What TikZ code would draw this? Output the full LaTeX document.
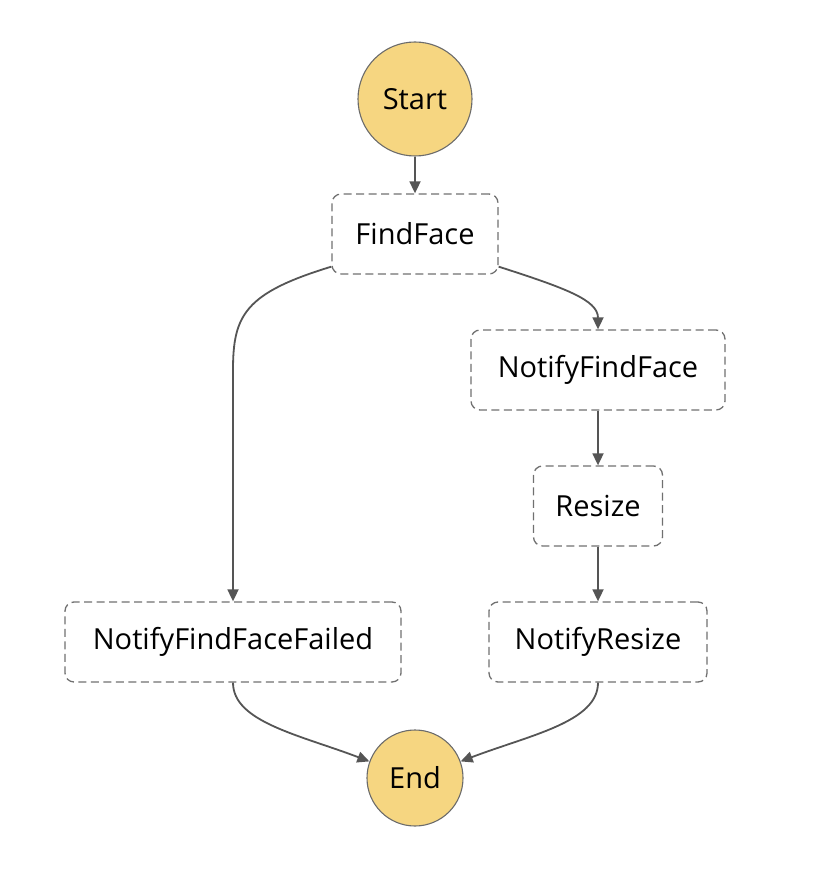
\documentclass[tikz,border=0pt]{standalone}
\usepackage{fontspec}
\setmainfont{Open Sans}
\usetikzlibrary{arrows.meta,calc}
\definecolor{startfill}{HTML}{F6D681}
\definecolor{circedge}{HTML}{6B6B6B}
\definecolor{boxedge}{HTML}{707070}
\definecolor{linkcol}{HTML}{555555}
\begin{document}
\begin{tikzpicture}[x=1pt,y=-1pt,
  statecircle/.style={circle,draw=circedge,fill=startfill,line width=1.1pt,inner sep=0pt,font=\fontsize{29}{33}\selectfont},
  taskbox/.style={rectangle,rounded corners=9pt,draw=boxedge,dash pattern=on 8pt off 4.5pt,line width=1.3pt,minimum height=80pt,inner sep=0pt,font=\fontsize{29}{33}\selectfont},
  link/.style={draw=linkcol,line width=1.8pt,-{Triangle[length=12pt,width=11pt]}}]
\useasboundingbox (0,0) rectangle (826,890);
\node[statecircle,minimum size=114pt] (start) at (415,99) {Start};
\node[taskbox,minimum width=166pt] (ff) at (415,234) {FindFace};
\node[taskbox,minimum width=254pt] (nff) at (598,370) {NotifyFindFace};
\node[taskbox,minimum width=129pt] (rs) at (598,506) {Resize};
\node[taskbox,minimum width=218pt] (nr) at (598,642) {NotifyResize};
\node[taskbox,minimum width=336pt] (nfff) at (233,642) {NotifyFindFaceFailed};
\node[statecircle,minimum size=96pt] (end) at (415,778) {End};
\coordinate (ffl) at ($(ff.south west)+(0,-8)$);
\coordinate (ffr) at ($(ff.south east)+(0,-8)$);
\draw[link] (start) -- (ff);
\draw[link] (ffl) .. controls (245,293) and (233,315) .. (233,370) -- (nfff.north);
\draw[link] (ffr) .. controls (565,288) and (598,300) .. (nff.north);
\draw[link] (nff) -- (rs);
\draw[link] (rs) -- (nr);
\draw[link] (nfff.south) .. controls (233,722) and (300,735) .. (end.160);
\draw[link] (nr.south) .. controls (598,722) and (530,735) .. (end.20);
\end{tikzpicture}
\end{document}
